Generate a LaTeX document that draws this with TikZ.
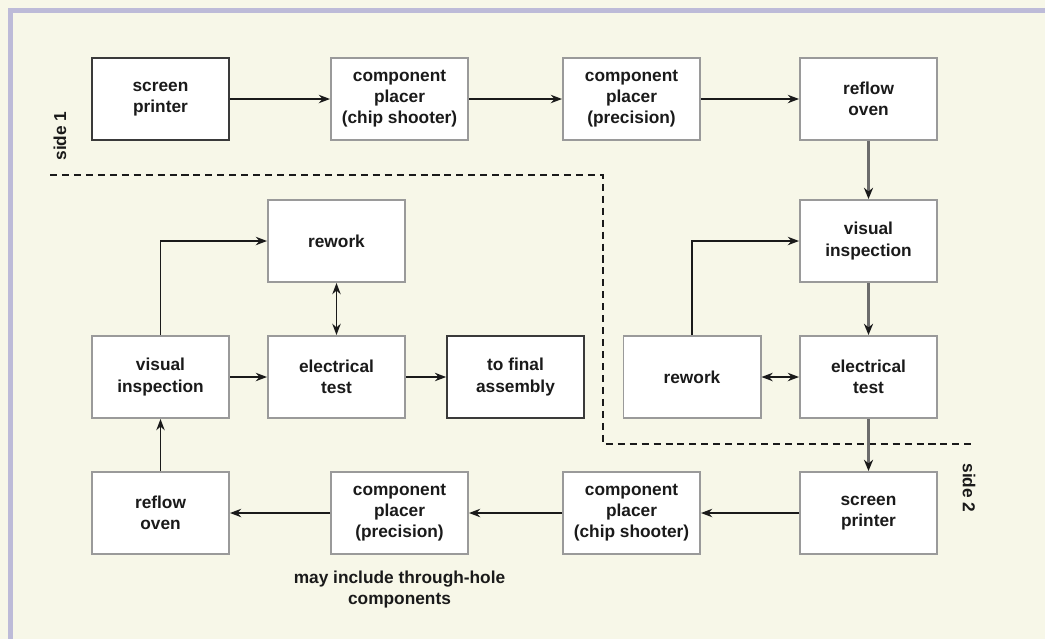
\documentclass[tikz,border=0pt]{standalone}
\usepackage{fontspec}
\setmainfont{Liberation Sans}
\usetikzlibrary{arrows.meta, positioning, calc}
\usepackage{xcolor}
\definecolor{PanelCream}{HTML}{F7F7E8}
\definecolor{PanelEdge}{HTML}{BDBBD8}
\definecolor{BoxGray}{HTML}{9A9A9A}
\definecolor{BoxDark}{HTML}{3A3A3A}
\definecolor{InkBlack}{HTML}{1A1A1A}
\tikzset{
    % Box styles
    stage/.style={
        rectangle,
        draw=BoxGray,
        fill=white,
        line width=1.4pt,
        minimum width=3.425cm,
        minimum height=2.05cm,
        inner sep=0pt,
        align=center,
        text=InkBlack,
        font=\bfseries\fontsize{12.3}{15}\selectfont
    },
    endstage/.style={
        stage,
        draw=BoxDark,
        line width=1.2pt
    },
    % Arrow styles
    arrow/.style={
        -{Stealth[length=8pt, width=6pt]},
        line width=1pt,
        draw=InkBlack
    },
    grayarrow/.style={
        -{Stealth[length=8pt, width=6.5pt, color=InkBlack]},
        line width=1.8pt,
        draw=BoxGray!70!black
    },
    botharrow/.style={
        {Stealth[length=8pt, width=6pt]}-{Stealth[length=8pt, width=6pt]},
        line width=1pt,
        draw=InkBlack
    },
    sidebound/.style={
        dashed,
        dash pattern=on 5pt off 3.5pt,
        line width=0.9pt,
        draw=InkBlack
    },
    sidelabel/.style={
        text=InkBlack,
        font=\bfseries\fontsize{12.3}{15}\selectfont
    }
}

\begin{document}
\begin{tikzpicture}[x=0.025cm, y=-0.025cm]
    % panel
    \useasboundingbox (0,0) rectangle (1045,639);
    \fill[PanelCream] (0,0) rectangle (1045,639);
    \fill[PanelEdge] (8,8) rectangle (1045,13);
    \fill[PanelEdge] (8,8) rectangle (13,639);

    % side 1
    \node[endstage] (print1) at (160.5,99) {screen\\printer};
    \node[stage] (chip1) at (399.5,99) {component\\placer\\(chip shooter)};
    \node[stage] (prec1) at (631.5,99) {component\\placer\\(precision)};
    \node[stage] (oven1) at (868.5,99) {reflow\\oven};
    \node[stage] (look1) at (868.5,241) {visual\\inspection};
    \node[stage] (test1) at (868.5,377) {electrical\\test};
    \node[stage] (fix1) at (692,377) {rework};

    % side 2
    \node[stage] (print2) at (868.5,513) {screen\\printer};
    \node[stage] (chip2) at (631.5,513) {component\\placer\\(chip shooter)};
    \node[stage] (prec2) at (399.5,513) {component\\placer\\(precision)};
    \node[stage] (oven2) at (160.5,513) {reflow\\oven};
    \node[stage] (look2) at (160.5,377) {visual\\inspection};
    \node[stage] (test2) at (336.5,377) {electrical\\test};
    \node[stage] (fix2) at (336.5,241) {rework};
    \node[endstage] (final) at (515.5,377) {to final\\assembly};

    \node[sidelabel, align=center, below=0.28cm of prec2] (note) {may include through-hole\\components};

    % boundary between sides
    \coordinate (bndA) at (50,175);
    \coordinate (bndB) at (603,175);
    \coordinate (bndC) at (603,444);
    \coordinate (bndD) at (975,444);
    \draw[sidebound] (bndA) -- (bndB) -- (bndC) -- (bndD);
    \node[sidelabel, rotate=90] (side1) at (60,136) {side 1};
    \node[sidelabel, rotate=-90] (side2) at (969,488) {side 2};

    % flow, side 1
    \draw[arrow] (print1) -- (chip1);
    \draw[arrow] (chip1) -- (prec1);
    \draw[arrow] (prec1) -- (oven1);
    \draw[grayarrow] (oven1) -- (look1);
    \draw[grayarrow] (look1) -- (test1);
    \draw[botharrow] (fix1) -- (test1);
    \draw[arrow] (fix1.north) |- (look1.west);
    \draw[grayarrow] (test1) -- (print2);

    % flow, side 2
    \draw[arrow] (print2) -- (chip2);
    \draw[arrow] (chip2) -- (prec2);
    \draw[arrow] (prec2) -- (oven2);
    \draw[arrow] (oven2) -- (look2);
    \draw[arrow] (look2) -- (test2);
    \draw[arrow] (test2) -- (final);
    \draw[botharrow] (fix2) -- (test2);
    \draw[arrow] (look2.north) |- (fix2.west);
\end{tikzpicture}
\end{document}
